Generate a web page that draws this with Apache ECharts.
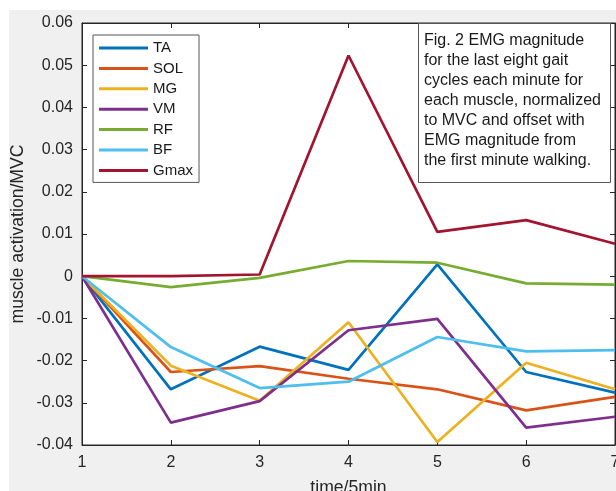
<!DOCTYPE html>
<html><head><meta charset="utf-8">
<script src="https://cdn.jsdelivr.net/npm/echarts@6/dist/echarts.min.js"></script>
<style>
html,body{margin:0;padding:0;background:#fff;}
#bg{position:absolute;left:9px;top:10px;width:607px;height:481px;background:#f0f0f0;}
#chart{position:absolute;left:0;top:0;width:616px;height:491px;}
</style></head>
<body><div id="bg"></div><div id="chart"></div>
<script>
var timeVals = [1, 2, 3, 4, 5, 6, 7];
var seriesNames = ['TA', 'SOL', 'MG', 'VM', 'RF', 'BF', 'Gmax'];
var TA   = [0, -0.0268, -0.0167, -0.0222,  0.0028, -0.0227, -0.0276];
var SOL  = [0, -0.0227, -0.0213, -0.0243, -0.0268, -0.0318, -0.0286];
var MG   = [0, -0.0212, -0.0295, -0.0109, -0.0393, -0.0205, -0.0268];
var VM   = [0, -0.0347, -0.0296, -0.0128, -0.0101, -0.0359, -0.0333];
var RF   = [0, -0.0026, -0.0004,  0.0036,  0.0032, -0.0017, -0.0020];
var BF   = [0, -0.0168, -0.0265, -0.0250, -0.0144, -0.0178, -0.0175];
var Gmax = [0,  0.0000,  0.0004,  0.0523,  0.0105,  0.0133,  0.0077];
var seriesValues = [TA, SOL, MG, VM, RF, BF, Gmax];
var colors = ['#0072BD', '#D95319', '#EDB120', '#7E2F8E', '#77AC30', '#4DBEEE', '#A2142F'];
var noteText = ['Fig. 2 EMG magnitude', 'for the last eight gait', 'cycles each minute for',
  'each muscle, normalized', 'to MVC and offset with', 'EMG magnitude from', 'the first minute walking.'];

var FONT = '"Liberation Sans", Arial, Helvetica, sans-serif';
var AX = '#262626';
var chart = echarts.init(document.getElementById('chart'), null, {renderer: 'canvas'});

var series = seriesNames.map(function (n, i) {
  return {
    name: n, type: 'line', xAxisIndex: 0, yAxisIndex: 0,
    data: timeVals.map(function (t, j) { return [t, seriesValues[i][j]]; }),
    symbol: 'none', showSymbol: false,
    lineStyle: {width: 2.7, color: colors[i]},
    itemStyle: {color: colors[i]},
    z: 3 + i, animation: false
  };
});

function fmt(v) { var s = Number(v.toFixed(2)); return String(s); }

chart.setOption({
  animation: false,
  textStyle: {fontFamily: FONT},
  grid: {left: 82, right: 1, top: 23, bottom: 46, show: true, backgroundColor: '#fff', borderColor: AX, borderWidth: 1,
         containLabel: false, outerBoundsMode: 'none'},
  title: {
    text: noteText.join('\n'), left: 418, top: 23,
    padding: [8, 10, 12, 6],
    backgroundColor: '#fff', borderColor: '#555', borderWidth: 1,
    textStyle: {fontFamily: FONT, fontSize: 16, fontWeight: 'normal', color: '#1a1a1a', lineHeight: 20}
  },
  legend: {
    data: seriesNames, orient: 'vertical', left: 93, top: 35,
    icon: 'rect', itemWidth: 49, itemHeight: 3, itemGap: 0.4,
    padding: [3, 6, 2, 6],
    backgroundColor: '#fff', borderColor: '#555', borderWidth: 1, borderRadius: 0,
    textStyle: {fontFamily: FONT, fontSize: 15, color: '#1a1a1a', lineHeight: 20}
  },
  xAxis: [{
    type: 'value', min: 1, max: 7, interval: 1, position: 'bottom',
    name: 'time/5min', nameLocation: 'middle', nameGap: 34, nameMoveOverlap: false,
    nameTextStyle: {fontFamily: FONT, fontSize: 17.6, color: AX},
    axisLine: {show: true, onZero: false, lineStyle: {color: AX, width: 1}},
    axisTick: {show: true, inside: true, length: 5, lineStyle: {color: AX}},
    axisLabel: {fontFamily: FONT, fontSize: 16, color: AX, margin: 10},
    splitLine: {show: false}
  }, {
    type: 'value', min: 1, max: 7, interval: 1, position: 'top',
    axisLine: {show: true, onZero: false, lineStyle: {color: AX, width: 1}},
    axisTick: {show: true, inside: true, length: 5, lineStyle: {color: AX}},
    axisLabel: {show: false}, splitLine: {show: false}
  }],
  yAxis: [{
    type: 'value', min: -0.04, max: 0.06, interval: 0.01, position: 'left',
    name: 'muscle activation/MVC', nameLocation: 'middle', nameGap: 55, nameMoveOverlap: false,
    nameTextStyle: {fontFamily: FONT, fontSize: 17.6, color: AX},
    axisLine: {show: true, onZero: false, lineStyle: {color: AX, width: 1}},
    axisTick: {show: true, inside: true, length: 5, lineStyle: {color: AX}},
    axisLabel: {fontFamily: FONT, fontSize: 16, color: AX, margin: 9, formatter: fmt},
    splitLine: {show: false}
  }, {
    type: 'value', min: -0.04, max: 0.06, interval: 0.01, position: 'right',
    axisLine: {show: true, onZero: false, lineStyle: {color: AX, width: 1}},
    axisTick: {show: true, inside: true, length: 5, lineStyle: {color: AX}},
    axisLabel: {show: false}, splitLine: {show: false}
  }],
  series: series
});
</script></body></html>
